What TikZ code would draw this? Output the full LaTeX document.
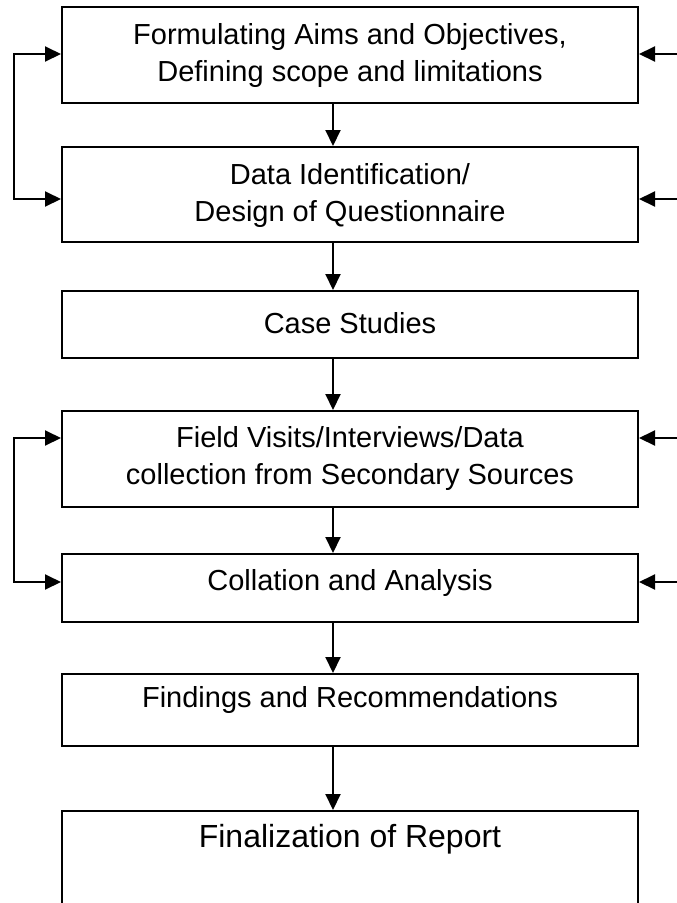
\documentclass[tikz,border=0pt]{standalone}
\usepackage{fontspec}
\setmainfont{Liberation Sans}
\usetikzlibrary{arrows.meta,calc}
\begin{document}
\begin{tikzpicture}[x=1pt,y=-1pt,
  box/.style={draw=black, line width=2pt, minimum width=576pt, inner sep=0pt, anchor=north},
  txt/.style={align=center, font=\fontsize{29}{37}\selectfont, inner sep=0pt},
  arr/.style={line width=2pt, -{Triangle[length=16pt,width=15pt]}},
  darr/.style={line width=2pt, {Triangle[length=16pt,width=15pt]}-{Triangle[length=16pt,width=15pt]}},
]
\useasboundingbox (0,0) rectangle (677,903);
\clip (0,0) rectangle (677,903);
\fill[white] (0,0) rectangle (677,903);

% boxes
\node[box, minimum height=96pt] (b1) at (350,6) {};
\node[box, minimum height=95pt] (b2) at (350,146) {};
\node[box, minimum height=67pt] (b3) at (350,290) {};
\node[box, minimum height=96pt] (b4) at (350,410) {};
\node[box, minimum height=68pt] (b5) at (350,553) {};
\node[box, minimum height=72pt] (b6) at (350,673) {};
\node[box, minimum height=130pt] (b7) at (350,810) {};

% texts
\node[txt] (t1) at (350,55) {Formulating Aims and Objectives,\\Defining scope and limitations};
\node[txt] (t2) at (350,195.5) {Data Identification/\\Design of Questionnaire};
\node[txt] (t3) at (350,323) {Case Studies};
\node[txt] (t4) at (350,458.5) {Field Visits/Interviews/Data\\collection from Secondary Sources};
\node[txt] (t5) at (350,583) {Collation and Analysis};
\node[txt] (t6) at (350,700) {Findings and Recommendations};
\node[txt, font=\fontsize{32}{38}\selectfont] (t7) at (350,839) {Finalization of Report};

% reference coordinates
\coordinate (ax) at (333,0);
\coordinate (lx) at (13.5,0);
\coordinate (rx) at (677,0);
\coordinate (y1) at (0,54);
\coordinate (y2) at (0,199);
\coordinate (y4) at (0,438);
\coordinate (y5) at (0,582);

% main flow
\draw[arr] (b1.south -| ax) -- (b2.north -| ax);
\draw[arr] (b2.south -| ax) -- (b3.north -| ax);
\draw[arr] (b3.south -| ax) -- (b4.north -| ax);
\draw[arr] (b4.south -| ax) -- (b5.north -| ax);
\draw[arr] (b5.south -| ax) -- (b6.north -| ax);
\draw[arr] (b6.south -| ax) -- (b7.north -| ax);

% left feedback loops
\draw[darr] (b1.west |- y1) -- (lx |- y1) -- (lx |- y2) -- (b2.west |- y2);
\draw[darr] (b4.west |- y4) -- (lx |- y4) -- (lx |- y5) -- (b5.west |- y5);

% right inputs
\draw[arr] (rx |- y1) -- (b1.east |- y1);
\draw[arr] (rx |- y2) -- (b2.east |- y2);
\draw[arr] (rx |- y4) -- (b4.east |- y4);
\draw[arr] (rx |- y5) -- (b5.east |- y5);
\end{tikzpicture}
\end{document}
